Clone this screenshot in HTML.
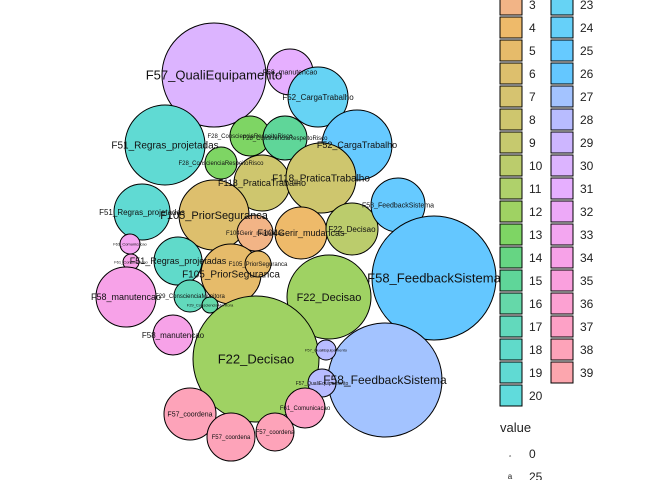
<!DOCTYPE html>
<html><head><meta charset="utf-8"><style>
body{margin:0;background:#fff;font-family:"Liberation Sans",Arial,sans-serif}
svg{display:block}
</style></head><body>
<svg id="chart" width="672" height="480"></svg>
<script>
const labels=["F57_QualiEquipamento","F58_manutencao","F52_CargaTrabalho","F52_CargaTrabalho","F51_Regras_projetadas","F28_ConscienciaRespeitoRisco","F28_ConscienciaRespeitoRisco","F28_ConscienciaRespeitoRisco","F118_PraticaTrabalho","F118_PraticaTrabalho","F105_PriorSeguranca","F51_Regras_projetadas","F104Gerir_mudancas","F104Gerir_mudancas","F22_Decisao","F58_FeedbackSistema","F58_FeedbackSistema","F51_Regras_projetadas","F105_PriorSeguranca","F105_PriorSeguranca","F22_Decisao","F61_Comunicacao","F61_Comunicacao","F58_manutencao","F58_manutencao","F29_ConscienciaMonitora","F29_ConscienciaMonitora","F22_Decisao","F58_FeedbackSistema","F57_QualiEquipamento","F57_QualiEquipamento","F61_Comunicacao","F57_coordena","F57_coordena","F57_coordena"];
const groups=[30,31,23,25,19,13,15,13,8,8,6,19,3,4,10,25,26,18,5,5,12,33,34,34,34,17,16,12,27,28,28,37,38,38,38];
const cxs=[214,290,318,357,165,250,285,221,262,321,214,142,255,301,352,398,434,178,231,258,329,130,131,126,173,190,210,256,385,326,322,305,190,231,275];
const cys=[75,72,97,145,145,136,138,163,183,178,215,212,233,233,229,205,278,261,274,264,297,244,262,297,335,296,305,359,380,350,383,408,414,437,432];
const radii=[52,23,30,35,40,20,22,16,28,35,35,28,18,26,26,27,62,24,30,13,42,10,8,30,20,16,8,63,57,10,14,20,26,24,19];
const fsz=[13,7,8,9,10,6,6,6,9,10,11,8,6,9,8,7,13,9,10,6,11,4,4,9,8,6,4,13,12,4,5,6,7,6,6];
const legendColors={3:"#F2B486",4:"#EEBA6A",5:"#E6BB6A",6:"#DDBF6D",7:"#D6C370",8:"#CEC66E",9:"#C6C96E",10:"#BBCC6C",11:"#AFD16B",12:"#9FD263",13:"#7ED564",14:"#66D583",15:"#5FD699",16:"#65D8A9",17:"#62D9BC",18:"#60DACA",19:"#60DAD3",20:"#60DBDC",23:"#66D3F4",24:"#66D0F9",25:"#66CAFF",26:"#64C7FF",27:"#A3C3FF",28:"#B8BCFF",29:"#CDB6FF",30:"#DCB4FF",31:"#E6AFFF",32:"#EDA9F8",33:"#F3A6F0",34:"#F7A2E8",35:"#FAA0DE",36:"#FCA1D2",37:"#FDA1C6",38:"#FDA3B9",39:"#FCA6AE"};
const svg=document.getElementById('chart');const NS="http://www.w3.org/2000/svg";
function mk(t,a){const e=document.createElementNS(NS,t);for(const k in a)e.setAttribute(k,a[k]);svg.appendChild(e);return e;}
for(let i=0;i<labels.length;i++){
 const c=mk('circle',{cx:cxs[i],cy:cys[i],r:radii[i],fill:legendColors[groups[i]],stroke:'#000','stroke-width':1});
 
 
}
for(let i=0;i<labels.length;i++){
 const t=mk('text',{x:cxs[i],y:cys[i]+fsz[i]*0.35,'font-size':fsz[i],'text-anchor':'middle',fill:'#111'});
 t.textContent=labels[i];
 
 
}
const col1=[3,4,5,6,7,8,9,10,11,12,13,14,15,16,17,18,19,20];
const col2=[23,24,25,26,27,28,29,30,31,32,33,34,35,36,37,38,39];
[[col1,500],[col2,551]].forEach(([arr,x])=>{arr.forEach((g,k)=>{
 const y=-6+23*k;
 const r=mk('rect',{x:x,y:y,width:22,height:21,fill:legendColors[g],stroke:'#000','stroke-width':1});
 
 
 const t=mk('text',{x:x+29,y:y+15,'font-size':12,fill:'#222'});t.textContent=g;
 
 
});});
const vt=mk('text',{x:500,y:432,'font-size':13,fill:'#222'});vt.textContent='value';


const d1=mk('text',{x:510,y:457,'font-size':4,'text-anchor':'middle',fill:'#666'});d1.textContent='a';


const l1=mk('text',{x:529,y:458,'font-size':12,fill:'#222'});l1.textContent='0';


const d2=mk('text',{x:510,y:479,'font-size':8,'text-anchor':'middle',fill:'#222'});d2.textContent='a';


const l2=mk('text',{x:529,y:481,'font-size':12,fill:'#222'});l2.textContent='25';


</script>
</body></html>
